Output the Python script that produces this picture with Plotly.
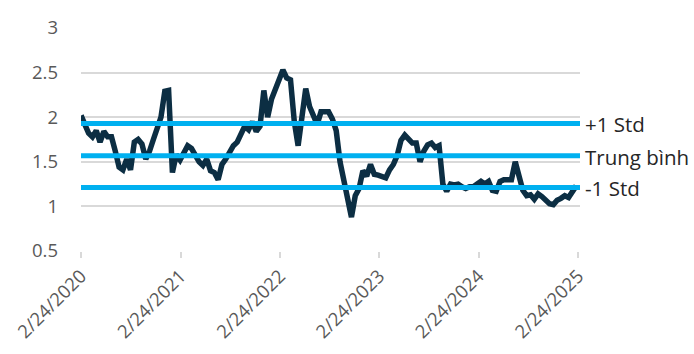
import pandas as pd
import plotly.graph_objects as go

# Bi-weekly observations, 24 Feb 2020 -> Feb 2025
start_date = "2020-02-24"
values = [
    2.02, 1.90, 1.82, 1.78, 1.85, 1.72, 1.84, 1.78, 1.78, 1.62,
    1.44, 1.41, 1.53, 1.41, 1.72, 1.75, 1.70, 1.53, 1.62, 1.75,
    1.86, 2.00, 2.29, 2.30, 1.38, 1.58, 1.52, 1.60, 1.68, 1.65,
    1.57, 1.50, 1.46, 1.53, 1.40, 1.38, 1.30, 1.47, 1.53, 1.60,
    1.68, 1.72, 1.80, 1.90, 1.86, 1.95, 1.84, 1.90, 2.30, 2.00,
    2.20, 2.32, 2.45, 2.53, 2.44, 2.42, 1.95, 1.68, 2.00, 2.32,
    2.12, 2.00, 1.92, 2.06, 2.06, 2.06, 1.98, 1.85, 1.50, 1.30,
    1.12, 0.88, 1.12, 1.20, 1.40, 1.34, 1.47, 1.36, 1.35, 1.34,
    1.32, 1.41, 1.47, 1.57, 1.74, 1.80, 1.75, 1.71, 1.71, 1.50,
    1.62, 1.69, 1.71, 1.66, 1.68, 1.25, 1.17, 1.25, 1.24, 1.25,
    1.22, 1.20, 1.22, 1.22, 1.25, 1.28, 1.25, 1.28, 1.18, 1.17,
    1.28, 1.30, 1.30, 1.30, 1.50, 1.32, 1.18, 1.12, 1.13, 1.08,
    1.14, 1.11, 1.07, 1.03, 1.02, 1.07, 1.09, 1.12, 1.10, 1.17,
    1.23,
]
dates = pd.date_range(start_date, periods=len(values), freq="14D")

std_levels = [1.93, 1.567, 1.213]
std_labels = ["+1 Std", "Trung bình", "-1 Std"]

tick_dates = ["2020-02-24", "2021-02-24", "2022-02-24", "2023-02-24", "2024-02-24", "2025-02-24"]
tick_labels = ["2/24/2020", "2/24/2021", "2/24/2022", "2/24/2023", "2/24/2024", "2/24/2025"]
y_ticks = [0.5, 1, 1.5, 2, 2.5, 3]
y_tick_labels = ["0.5", "1", "1.5", "2", "2.5", "3"]

x_start, x_end = "2020-02-24", "2025-03-03"

NAVY = "#0C2E43"
BLUE = "#00B0F0"
FONT = "Open Sans"

fig = go.Figure()
fig.add_trace(go.Scatter(
    x=dates, y=values, mode="lines",
    line=dict(color=NAVY, width=5.5), showlegend=False, hoverinfo="skip",
))
for lvl in std_levels:
    fig.add_trace(go.Scatter(
        x=[x_start, x_end], y=[lvl, lvl], mode="lines",
        line=dict(color=BLUE, width=5), showlegend=False, hoverinfo="skip",
    ))
for lvl, lab in zip(std_levels, std_labels):
    fig.add_annotation(
        x=1, xref="paper", y=lvl, yref="y", text=lab, showarrow=False,
        xanchor="left", yanchor="middle", xshift=3, yshift=-1,
        font=dict(family=FONT, size=20.5, color="#262626"),
    )

fig.update_layout(
    width=694, height=354,
    margin=dict(l=81, r=114, t=28, b=103),
    paper_bgcolor="white", plot_bgcolor="white",
    font=dict(family=FONT, color="#595959", size=18),
    xaxis=dict(
        type="date", range=[x_start, x_end],
        tickvals=tick_dates, ticktext=tick_labels, tickangle=-45,
        showgrid=False, zeroline=False,
        showline=False,
        ticks="outside", ticklen=6, tickcolor="#D9D9D9", tickwidth=1.5,
        tickfont=dict(family=FONT, size=18.5, color="#595959"),
    ),
    yaxis=dict(
        range=[0.5, 3], tickvals=y_ticks, ticktext=y_tick_labels,
        showgrid=True, gridcolor="#D9D9D9", gridwidth=1.5,
        zeroline=False, showline=False, ticks="",
        ticklabelstandoff=22,
        tickfont=dict(family=FONT, size=18.5, color="#595959"),
    ),
)

fig.write_html("out.html")
